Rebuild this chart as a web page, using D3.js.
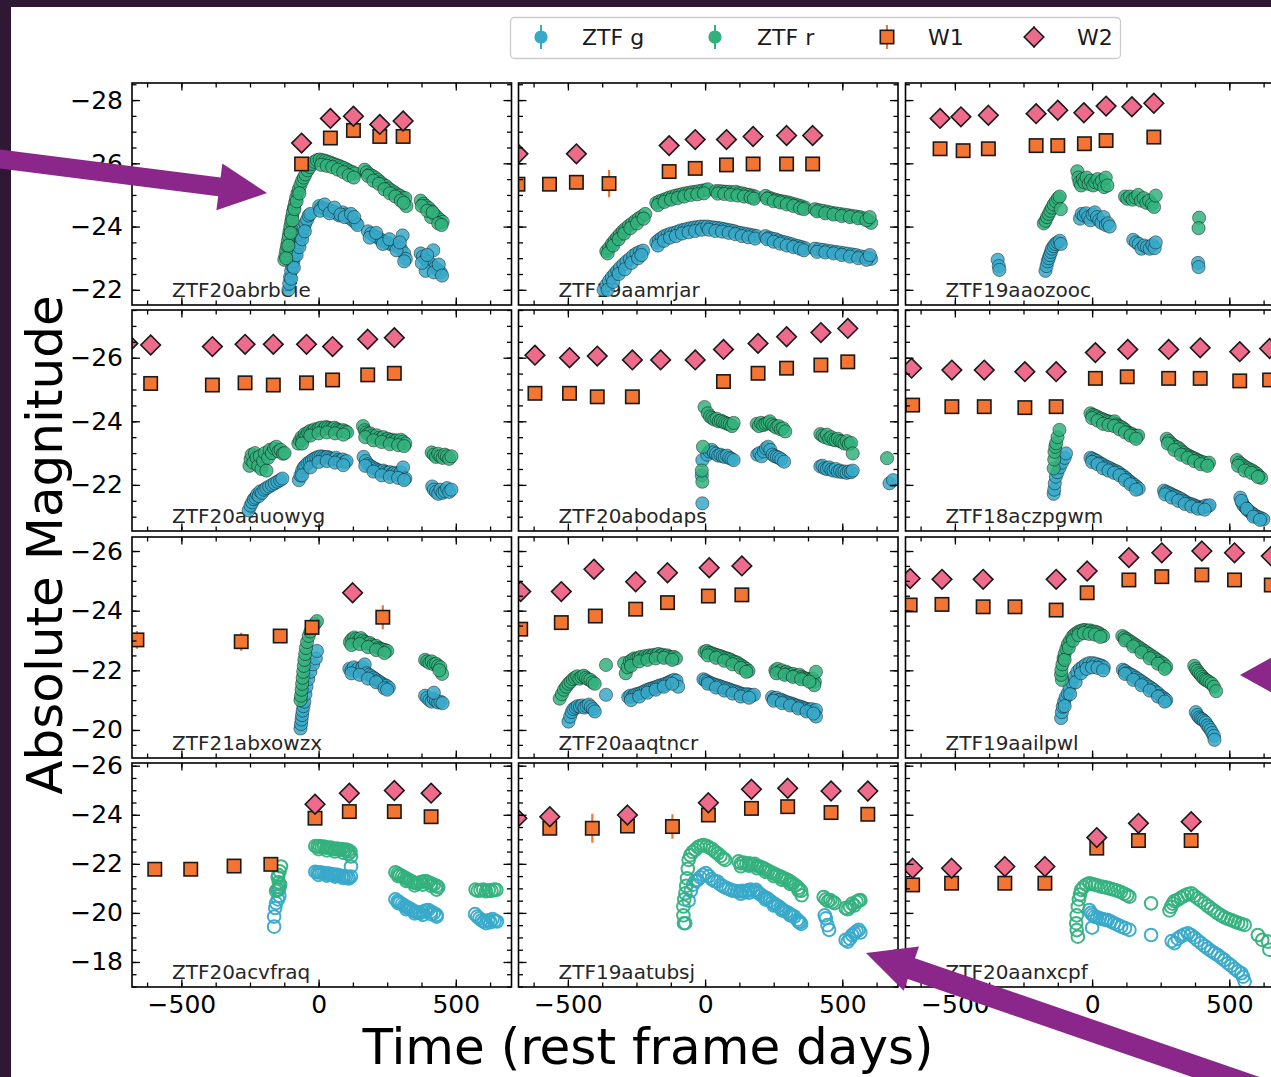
<!DOCTYPE html>
<html><head><meta charset="utf-8">
<script src="https://cdn.jsdelivr.net/npm/d3@7"></script>
<style>html,body{margin:0;padding:0;background:#2e1833;overflow:hidden;} svg{display:block;font-family:"DejaVu Sans",sans-serif;}</style>
</head><body><svg id="c" width="1271" height="1077"></svg>
<script>
// ---------------- DATA ----------------
const objectNames = ["ZTF20abrbeie","ZTF19aamrjar","ZTF19aaozooc","ZTF20aauowyg","ZTF20abodaps","ZTF18aczpgwm","ZTF21abxowzx","ZTF20aaqtncr","ZTF19aailpwl","ZTF20acvfraq","ZTF19aatubsj","ZTF20aanxcpf"];
const openMarkerObjects = ["ZTF20acvfraq","ZTF19aatubsj","ZTF20aanxcpf"];
const bandNames = ["ZTF g","ZTF r","W1","W2"];
const bandColors = ["#38a9c9","#33b17d","#f47431","#ef6b8b"];
const xDomain = [-680, 703];
const xMajorTicks = [-500, 0, 500];
const xMinorTicks = [-625,-500,-375,-250,-125,0,125,250,375,500,625];
const rowYDomains = [[-28.54,-21.52],[-27.5,-20.55],[-26.47,-19.06],[-26.11,-16.98]];
const rowYTicks = [[-28,-26,-24,-22],[-26,-24,-22],[-26,-24,-22,-20],[-26,-24,-22,-20,-18]];
const xLabel = "Time (rest frame days)";
const yLabel = "Absolute Magnitude";

// ZTF20abrbeie
const abrbeie_g = [[-110,-22.0],[-107,-22.2],[-104,-22.4],[-100,-22.6],[-96,-22.75],[-92,-22.9],[-88,-23.05],[-84,-23.2],[-78,-23.35],[-72,-23.5],[-66,-23.65],[-60,-23.8],[-54,-23.95],[-48,-24.1],[-42,-24.22],[-36,-24.35],[-30,-24.4],
[-100,-22.35],[-90,-22.7],[-80,-23.1],[-70,-23.35],[-60,-23.6],[-50,-23.85],
[2,-24.65],[10,-24.6],[18,-24.58],[27,-24.55],[36,-24.52],[45,-24.5],[55,-24.48],[65,-24.42],[75,-24.35],[88,-24.45],[100,-24.38],[112,-24.28],[124,-24.2],[136,-24.12],[142,-24.05],
[6,-24.5],[22,-24.7],[40,-24.42],[58,-24.6],[80,-24.38],[95,-24.3],[118,-24.4],[130,-24.3],
[180,-23.85],[192,-23.78],[204,-23.7],[216,-23.65],[228,-23.58],[240,-23.52],[252,-23.48],[264,-23.44],[278,-23.4],[292,-23.38],[300,-23.3],[306,-23.72],[312,-23.15],[318,-22.98],[312,-22.9],
[186,-23.65],[210,-23.8],[234,-23.45],[258,-23.6],[284,-23.25],[296,-23.5],
[372,-23.15],[380,-23.05],[390,-22.95],[400,-22.88],[410,-22.82],[418,-23.25],[425,-22.7],[435,-22.62],[445,-22.55],[390,-22.6],
[376,-22.85],[396,-23.1],[420,-22.55],[438,-22.8],[450,-22.45]];
const abrbeie_r = [[-125,-22.95],[-121,-23.1],[-118,-23.25],[-115,-23.4],[-112,-23.55],[-109,-23.7],[-106,-23.85],[-103,-24.0],[-100,-24.15],[-97,-24.3],[-94,-24.45],[-90,-24.6],[-86,-24.75],[-82,-24.9],[-77,-25.05],[-72,-25.18],[-66,-25.32],[-60,-25.45],[-54,-25.55],[-48,-25.65],[-40,-25.78],[-32,-25.88],[-24,-25.98],[-16,-26.05],
[-118,-23.0],[-110,-23.4],[-102,-23.8],[-95,-24.2],[-88,-24.55],[-80,-24.8],[-70,-25.05],
[-6,-26.1],[4,-26.12],[14,-26.1],[24,-26.08],[34,-26.05],[44,-26.02],[54,-25.98],[64,-25.95],[74,-25.92],[84,-25.88],[94,-25.85],[104,-25.8],[114,-25.75],[124,-25.72],[132,-25.68],
[10,-25.95],[30,-25.92],[50,-25.88],[70,-25.8],[90,-25.72],[110,-25.62],[128,-25.55],
[168,-25.8],[176,-25.72],[186,-25.65],[196,-25.6],[206,-25.55],[216,-25.48],[226,-25.4],[236,-25.33],[246,-25.28],[256,-25.2],[266,-25.14],[276,-25.08],[286,-25.02],[296,-24.98],[306,-24.92],[316,-24.9],[320,-24.65],
[180,-25.6],[200,-25.45],[220,-25.35],[240,-25.18],[260,-25.05],[280,-24.95],[300,-24.82],[310,-24.75],
[372,-24.82],[382,-24.72],[392,-24.65],[402,-24.58],[412,-24.48],[422,-24.38],[432,-24.3],[442,-24.22],[452,-24.15],[410,-24.3],
[376,-24.65],[396,-24.5],[416,-24.45],[436,-24.1],[448,-24.05]];
const abrbeie_w1 = [[-62,-25.98,0.08],[43,-26.8,0.08],[127,-27.04,0.08],[223,-26.85,0.08],[308,-26.85,0.08]];
const abrbeie_w2 = [[-62,-26.64,0.08],[43,-27.42,0.08],[127,-27.49,0.08],[223,-27.23,0.08],[308,-27.34,0.08]];

// ZTF19aamrjar
const aamrjar_g = [[-370,-22.0],[-360,-22.15],[-350,-22.28],[-340,-22.4],[-330,-22.5],[-320,-22.6],[-310,-22.7],[-298,-22.8],[-286,-22.9],[-274,-22.98],[-262,-23.08],[-250,-23.15],[-238,-23.2],[-226,-23.24],
[-355,-22.0],[-335,-22.25],[-315,-22.5],[-292,-22.65],[-268,-22.85],[-244,-23.0],[-232,-23.1],
[-178,-23.5],[-168,-23.58],[-158,-23.64],[-148,-23.7],[-136,-23.74],[-124,-23.78],[-112,-23.8],[-100,-23.84],[-88,-23.88],[-76,-23.9],[-64,-23.93],[-52,-23.95],[-40,-23.97],[-28,-23.98],[-16,-24.0],[-4,-24.0],
[-172,-23.4],[-150,-23.55],[-128,-23.65],[-106,-23.7],[-84,-23.78],[-60,-23.82],[-36,-23.86],[-12,-23.9],
[8,-24.0],[20,-23.98],[32,-23.97],[44,-23.96],[56,-23.94],[68,-23.92],[80,-23.9],[92,-23.88],[104,-23.86],[116,-23.82],[128,-23.8],[140,-23.78],[152,-23.76],[164,-23.74],[176,-23.72],[188,-23.7],
[14,-23.9],[38,-23.86],[62,-23.84],[86,-23.8],[110,-23.76],[134,-23.7],[158,-23.66],[182,-23.62],
[220,-23.7],[232,-23.65],[244,-23.62],[256,-23.6],[268,-23.56],[280,-23.52],[292,-23.5],[304,-23.47],[316,-23.44],[328,-23.4],[340,-23.38],[352,-23.35],[364,-23.32],
[226,-23.6],[250,-23.52],[274,-23.46],[298,-23.4],[322,-23.35],[346,-23.3],[360,-23.25],
[400,-23.3],[415,-23.28],[430,-23.26],[445,-23.24],[460,-23.22],[475,-23.2],[490,-23.18],[505,-23.16],[520,-23.14],[535,-23.12],[550,-23.1],[565,-23.06],[580,-23.04],[595,-23.02],[605,-22.98],
[408,-23.2],[438,-23.18],[468,-23.15],[498,-23.1],[528,-23.05],[558,-23.0],[588,-22.95],[600,-23.1]];
const aamrjar_r = [[-360,-23.22],[-350,-23.32],[-340,-23.45],[-330,-23.56],[-320,-23.66],[-310,-23.76],[-300,-23.85],[-290,-23.93],[-278,-24.02],[-266,-24.1],[-254,-24.18],[-242,-24.26],[-230,-24.32],[-218,-24.4],
[-355,-23.15],[-335,-23.4],[-315,-23.6],[-295,-23.78],[-272,-23.95],[-248,-24.1],[-224,-24.25],
[-178,-24.75],[-166,-24.8],[-154,-24.84],[-142,-24.88],[-130,-24.92],[-118,-24.95],[-106,-24.98],[-94,-25.0],[-82,-25.03],[-70,-25.05],[-58,-25.07],[-46,-25.09],[-34,-25.1],[-22,-25.12],[-10,-25.14],[2,-25.15],[10,-25.18],
[-172,-24.68],[-148,-24.78],[-124,-24.85],[-100,-24.9],[-76,-24.95],[-52,-25.0],[-28,-25.02],[-4,-25.05],
[40,-25.12],[52,-25.12],[64,-25.11],[76,-25.1],[88,-25.1],[100,-25.08],[112,-25.1],[124,-25.06],[136,-25.05],[148,-25.02],[160,-25.0],[172,-24.98],[182,-24.95],
[46,-25.04],[70,-25.03],[94,-25.0],[118,-24.98],[142,-24.95],[166,-24.92],[178,-24.88],
[220,-24.97],[232,-24.92],[244,-24.88],[256,-24.85],[268,-24.82],[280,-24.8],[292,-24.78],[304,-24.76],[316,-24.73],[328,-24.7],[340,-24.67],[352,-24.64],[364,-24.6],
[226,-24.88],[250,-24.8],[274,-24.76],[298,-24.7],[322,-24.65],[346,-24.58],[360,-24.55],
[400,-24.55],[415,-24.52],[430,-24.5],[445,-24.47],[460,-24.44],[475,-24.42],[490,-24.4],[505,-24.38],[520,-24.36],[535,-24.34],[550,-24.32],[565,-24.3],[580,-24.26],[595,-24.2],[605,-24.12],
[408,-24.48],[438,-24.42],[468,-24.38],[498,-24.33],[528,-24.3],[558,-24.26],[588,-24.2],[600,-24.3]];
const aamrjar_w1 = [[-682,-25.34,0.08],[-567,-25.34,0.08],[-469,-25.4,0.08],[-350,-25.36,0.43],[-131,-25.74,0.08],[-36,-25.84,0.08],[78,-25.95,0.08],[175,-25.98,0.08],[297,-25.98,0.08],[392,-25.98,0.08]];
const aamrjar_w2 = [[-682,-26.3,0.08],[-469,-26.3,0.08],[-131,-26.56,0.08],[-36,-26.75,0.08],[78,-26.75,0.08],[175,-26.85,0.08],[297,-26.88,0.08],[392,-26.88,0.08]];

// ZTF19aaozooc
const aaozooc_g = [[-344,-22.95],[-340,-22.75],[-338,-22.63],
[-170,-22.6],[-166,-22.75],[-162,-22.9],[-158,-23.0],[-154,-23.1],[-150,-23.2],[-146,-23.3],[-140,-23.38],[-134,-23.45],[-126,-23.5],[-118,-23.55],[-114,-23.45],
[-44,-24.25],[-38,-24.4],[-30,-24.35],[-22,-24.42],[-14,-24.3],[-6,-24.2],[2,-24.38],[10,-24.45],[18,-24.3],[26,-24.2],[34,-24.12],[42,-24.3],[50,-24.05],[58,-24.1],[64,-24.0],
[150,-23.58],[160,-23.5],[170,-23.45],[180,-23.3],[190,-23.4],[200,-23.35],[210,-23.3],[220,-23.42],[228,-23.32],[232,-23.5],
[386,-22.85],[388,-22.72]];
const aaozooc_r = [[-176,-24.1],[-170,-24.18],[-164,-24.3],[-158,-24.4],[-152,-24.5],[-146,-24.6],[-140,-24.7],[-132,-24.8],[-124,-24.9],[-118,-24.95],[-114,-24.55],
[-54,-25.75],[-50,-25.55],[-46,-25.4],[-40,-25.3],[-34,-25.5],[-28,-25.4],[-20,-25.55],[-12,-25.35],[-4,-25.45],[4,-25.3],[12,-25.4],[20,-25.5],[28,-25.35],[36,-25.45],[44,-25.25],[50,-25.55],[56,-25.3],
[120,-24.95],[128,-24.88],[138,-24.95],[148,-24.85],[158,-24.92],[168,-25.0],[178,-24.82],[188,-24.9],[198,-24.75],[208,-24.82],[218,-24.7],[226,-24.62],[232,-24.98],
[390,-24.28],[388,-23.95]];
const aaozooc_w1 = [[-554,-26.46,0.08],[-470,-26.4,0.12],[-378,-26.46,0.08],[-204,-26.56,0.08],[-125,-26.56,0.08],[-28,-26.62,0.15],[51,-26.72,0.08],[225,-26.83,0.08]];
const aaozooc_w2 = [[-554,-27.42,0.08],[-478,-27.47,0.08],[-378,-27.52,0.08],[-204,-27.57,0.08],[-125,-27.68,0.08],[-30,-27.6,0.08],[51,-27.81,0.08],[145,-27.79,0.08],[225,-27.9,0.08]];

// ZTF20aauowyg
const aauowyg_g = [[-255,-21.2],[-248,-21.35],[-242,-21.45],[-236,-21.55],[-230,-21.6],[-224,-21.7],[-218,-21.65],[-212,-21.8],[-206,-21.75],[-198,-21.85],[-190,-21.9],[-180,-21.95],[-170,-22.0],[-160,-22.05],[-150,-22.1],[-140,-22.15],[-132,-22.2],
[-72,-22.15],[-66,-22.3],[-60,-22.45],[-54,-22.55],[-48,-22.6],[-40,-22.68],[-32,-22.72],[-24,-22.78],[-16,-22.82],[-8,-22.85],[0,-22.88],[8,-22.9],[16,-22.88],[24,-22.86],[32,-22.88],[40,-22.85],[48,-22.82],[56,-22.8],[64,-22.85],[72,-22.78],[80,-22.75],[88,-22.8],[96,-22.72],[102,-22.75],
[-60,-22.3],[-30,-22.55],[0,-22.72],[30,-22.75],[60,-22.7],[90,-22.62],
[164,-22.88],[172,-22.75],[180,-22.65],[188,-22.6],[196,-22.55],[204,-22.52],[212,-22.48],[220,-22.45],[228,-22.42],[236,-22.45],[244,-22.4],[252,-22.38],[260,-22.4],[268,-22.35],[276,-22.38],[284,-22.35],[292,-22.32],[300,-22.4],[308,-22.55],[316,-22.2],
[170,-22.6],[200,-22.42],[230,-22.3],[260,-22.25],[290,-22.22],[312,-22.15],
[414,-21.95],[420,-21.85],[428,-21.78],[436,-21.72],[444,-21.85],[452,-21.75],[460,-21.8],[468,-21.9],[476,-21.78],[484,-21.85]];
const aauowyg_r = [[-252,-22.6],[-248,-22.8],[-244,-22.95],[-238,-22.7],[-232,-23.0],[-226,-22.85],[-220,-22.6],[-214,-22.9],[-208,-22.5],[-202,-22.75],[-196,-23.0],[-190,-22.45],[-184,-22.85],[-178,-23.1],[-170,-23.0],[-162,-23.15],[-154,-23.2],[-146,-23.05],[-138,-23.1],[-130,-22.98],[-124,-23.0],
[-74,-23.3],[-68,-23.4],[-62,-23.5],[-56,-23.45],[-50,-23.6],[-44,-23.55],[-38,-23.65],[-30,-23.7],[-22,-23.68],[-14,-23.75],[-6,-23.72],[2,-23.78],[10,-23.8],[18,-23.75],[26,-23.82],[34,-23.8],[42,-23.78],[50,-23.76],[58,-23.8],[66,-23.75],[74,-23.72],[82,-23.7],[90,-23.72],[98,-23.68],[104,-23.65],
[-60,-23.3],[-30,-23.55],[0,-23.62],[30,-23.65],[60,-23.62],[90,-23.58],
[162,-23.85],[168,-23.72],[174,-23.65],[180,-23.6],[188,-23.62],[196,-23.55],[204,-23.5],[212,-23.56],[220,-23.48],[228,-23.45],[236,-23.5],[244,-23.42],[252,-23.45],[260,-23.4],[268,-23.42],[276,-23.38],[284,-23.4],[292,-23.35],[300,-23.42],[308,-23.36],[316,-23.3],
[170,-23.5],[200,-23.4],[230,-23.35],[260,-23.28],[290,-23.25],[312,-23.22],
[412,-23.02],[420,-22.95],[428,-22.88],[436,-22.98],[444,-22.9],[452,-22.85],[460,-22.95],[468,-22.9],[476,-22.82],[484,-22.9]];
const aauowyg_w1 = [[-612,-25.19,0.08],[-387,-25.14,0.08],[-268,-25.21,0.08],[-165,-25.14,0.08],[-44,-25.21,0.08],[51,-25.3,0.08],[179,-25.46,0.08],[276,-25.51,0.08]];
const aauowyg_w2 = [[-695,-26.45,0.08],[-612,-26.4,0.08],[-387,-26.35,0.08],[-268,-26.42,0.08],[-165,-26.42,0.08],[-44,-26.42,0.08],[51,-26.35,0.08],[179,-26.58,0.08],[276,-26.63,0.08]];

// ZTF20abodaps
const abodaps_g = [[-10,-21.42],[-12,-22.3],[-10,-22.78],[8,-22.95],[16,-23.05],[24,-23.1],[32,-23.02],[40,-22.98],[48,-22.92],[56,-22.95],[64,-22.9],[72,-22.88],[80,-22.92],[88,-22.85],[96,-22.82],[104,-22.78],
[190,-22.95],[198,-23.0],[206,-22.9],[214,-23.05],[222,-23.15],[230,-23.2],[238,-23.1],[246,-22.95],[254,-22.9],[262,-22.88],[270,-22.85],[278,-22.8],[288,-22.73],
[420,-22.58],[428,-22.6],[436,-22.52],[444,-22.5],[452,-22.55],[460,-22.48],[468,-22.45],[476,-22.5],[484,-22.42],[492,-22.45],[500,-22.4],[508,-22.42],[516,-22.38],[524,-22.42],[532,-22.4],[538,-22.45],
[672,-22.05],[685,-22.15]];
const abodaps_r = [[-10,-22.1],[-12,-22.45],[-8,-23.2],[-2,-24.45],[10,-24.25],[18,-24.15],[26,-24.1],[34,-24.05],[42,-24.08],[50,-24.0],[58,-24.02],[66,-23.98],[74,-23.95],[82,-23.92],[90,-23.9],[98,-23.85],[104,-23.95],
[188,-23.92],[196,-23.85],[204,-23.95],[212,-23.88],[220,-23.92],[228,-23.95],[236,-24.0],[244,-23.9],[252,-23.85],[260,-23.8],[268,-23.85],[276,-23.75],[284,-23.78],[292,-23.68],
[420,-23.6],[428,-23.55],[436,-23.5],[444,-23.58],[452,-23.45],[460,-23.5],[468,-23.42],[476,-23.4],[484,-23.45],[492,-23.38],[500,-23.35],[508,-23.3],[516,-23.38],[524,-23.28],[532,-23.32],[538,-22.99],
[663,-22.84]];
const abodaps_w1 = [[-620,-24.88,0.08],[-494,-24.88,0.08],[-393,-24.77,0.08],[-265,-24.77,0.08],[67,-25.25,0.08],[193,-25.51,0.08],[297,-25.67,0.08],[422,-25.77,0.08],[520,-25.87,0.08]];
const abodaps_w2 = [[-620,-26.08,0.08],[-494,-26.0,0.08],[-393,-26.05,0.08],[-265,-25.93,0.08],[-162,-25.93,0.08],[-36,-25.93,0.08],[67,-26.26,0.08],[193,-26.45,0.08],[297,-26.66,0.08],[422,-26.79,0.08],[520,-26.92,0.08]];

// ZTF18aczpgwm
const aczpgwm_g = [[-140,-21.72],[-138,-21.85],[-136,-22.05],[-132,-22.26],[-126,-22.4],[-118,-22.55],[-110,-22.7],[-100,-22.85],[-95,-22.99],
[-6,-22.85],[2,-22.82],[10,-22.78],[18,-22.75],[26,-22.7],[34,-22.66],[42,-22.62],[50,-22.58],[58,-22.55],[66,-22.52],[74,-22.48],[82,-22.45],[90,-22.42],[98,-22.38],[106,-22.32],[114,-22.28],[122,-22.22],[130,-22.16],[138,-22.1],[146,-22.05],[154,-22.0],[162,-21.94],[170,-21.88],
[0,-22.72],[20,-22.65],[40,-22.52],[60,-22.45],[80,-22.38],[100,-22.3],[120,-22.15],[140,-22.02],[160,-21.85],
[262,-21.82],[270,-21.78],[278,-21.75],[286,-21.72],[294,-21.68],[302,-21.65],[310,-21.62],[318,-21.58],[326,-21.55],[334,-21.5],[342,-21.46],[350,-21.42],[358,-21.4],[366,-21.38],[374,-21.35],[382,-21.32],[390,-21.3],[398,-21.28],[406,-21.3],[414,-21.35],[422,-21.33],[428,-21.36],
[266,-21.7],[290,-21.6],[314,-21.5],[338,-21.4],[362,-21.32],[386,-21.25],[410,-21.22],
[540,-21.6],[546,-21.45],[552,-21.35],[560,-21.28],[568,-21.2],[576,-21.15],[584,-21.1],[592,-21.05],[600,-21.0],[608,-20.98],[616,-20.95],[624,-20.92],
[544,-21.5],[564,-21.25],[588,-21.0],[612,-20.9]];
const aczpgwm_r = [[-140,-22.52],[-138,-22.8],[-137,-23.04],[-134,-23.2],[-131,-23.31],[-126,-23.5],[-119,-23.73],
[-6,-24.25],[2,-24.2],[10,-24.18],[18,-24.15],[26,-24.1],[34,-24.08],[42,-24.05],[50,-24.02],[58,-24.0],[66,-23.98],[74,-23.95],[82,-24.0],[90,-23.9],[98,-23.85],[106,-23.82],[114,-23.78],[122,-23.72],[130,-23.65],[138,-23.62],[146,-23.6],[154,-23.55],[162,-23.52],[168,-23.55],
[0,-24.1],[20,-24.02],[40,-23.92],[60,-23.88],[80,-23.85],[100,-23.75],[120,-23.65],[140,-23.55],[160,-23.45],
[272,-23.45],[280,-23.38],[288,-23.3],[296,-23.25],[304,-23.2],[312,-23.18],[320,-23.12],[328,-23.05],[336,-23.0],[344,-22.95],[352,-22.92],[360,-22.88],[368,-22.85],[376,-22.82],[384,-22.78],[392,-22.75],[400,-22.72],[410,-22.7],[418,-22.66],[426,-22.7],
[276,-23.3],[300,-23.1],[324,-22.95],[348,-22.85],[372,-22.75],[396,-22.65],[420,-22.6],
[528,-22.78],[536,-22.7],[544,-22.65],[552,-22.6],[560,-22.55],[568,-22.52],[576,-22.48],[584,-22.45],[592,-22.4],[600,-22.35],[608,-22.28],[616,-22.22],
[532,-22.6],[556,-22.45],[580,-22.38],[604,-22.25]];
const aczpgwm_w1 = [[-654,-24.51,0.08],[-511,-24.46,0.08],[-393,-24.46,0.08],[-245,-24.43,0.08],[-131,-24.46,0.08],[12,-25.35,0.08],[128,-25.4,0.08],[279,-25.35,0.08],[394,-25.35,0.08],[538,-25.27,0.08],[647,-25.3,0.08]];
const aczpgwm_w2 = [[-658,-25.67,0.08],[-511,-25.61,0.08],[-393,-25.61,0.08],[-245,-25.56,0.08],[-131,-25.56,0.08],[12,-26.16,0.08],[130,-26.26,0.08],[279,-26.26,0.08],[394,-26.31,0.08],[538,-26.19,0.08],[647,-26.29,0.08]];

// ZTF21abxowzx
const abxowzx_g = [[-66,-20.05],[-64,-20.2],[-62,-20.35],[-60,-20.5],[-58,-20.65],[-55,-20.8],[-52,-20.95],[-48,-21.2],[-44,-21.45],[-38,-21.7],[-30,-21.95],[-20,-22.2],[-10,-22.4],[-6,-22.65],
[112,-22.05],[120,-22.0],[128,-22.1],[136,-21.98],[144,-22.05],[152,-21.95],[160,-22.1],[168,-22.2],[176,-21.9],[184,-21.85],[192,-21.8],[200,-21.75],[208,-21.7],[216,-21.65],[224,-21.6],[232,-21.55],[240,-21.5],[248,-21.48],[256,-21.42],
[120,-21.9],[150,-21.85],[180,-21.72],[210,-21.6],[240,-21.4],[250,-21.35],
[388,-21.15],[396,-21.08],[404,-21.0],[412,-20.95],[420,-21.05],[428,-20.98],[436,-20.92],[444,-20.95],[452,-20.9],[420,-21.25]];
const abxowzx_r = [[-66,-21.0],[-64,-21.15],[-62,-21.35],[-60,-21.55],[-58,-21.75],[-56,-21.95],[-54,-22.15],[-52,-22.35],[-49,-22.55],[-46,-22.75],[-42,-22.95],[-36,-23.15],[-30,-23.3],[-22,-23.45],[-14,-23.55],[-6,-23.65],
[114,-22.95],[122,-23.05],[130,-23.1],[138,-23.05],[146,-23.0],[154,-23.08],[162,-23.0],[170,-22.95],[178,-22.9],[186,-22.92],[194,-22.85],[202,-22.8],[210,-22.82],[218,-22.75],[226,-22.72],[234,-22.7],[242,-22.68],[250,-22.65],
[120,-22.85],[150,-22.88],[180,-22.78],[210,-22.68],[240,-22.58],
[388,-22.35],[396,-22.3],[404,-22.25],[412,-22.3],[420,-22.2],[428,-22.22],[436,-22.15],[444,-22.1],[450,-21.88],[440,-22.0]];
const abxowzx_w1 = [[-662,-23.02,0.3],[-282,-22.96,0.3],[-140,-23.15,0.2],[-24,-23.44,0.2],[234,-23.78,0.4]];
const abxowzx_w2 = [[124,-24.6,0.08]];

// ZTF20aaqtncr
const aaqtncr_g = [[-498,-20.28],[-492,-20.45],[-486,-20.6],[-480,-20.7],[-472,-20.75],[-464,-20.8],[-456,-20.78],[-448,-20.82],[-440,-20.75],[-432,-20.8],[-424,-20.85],[-416,-20.78],[-408,-20.7],[-402,-20.62],[-361,-21.18],
[-280,-21.1],[-272,-21.15],[-264,-21.12],[-256,-21.18],[-248,-21.2],[-240,-21.22],[-232,-21.25],[-224,-21.28],[-216,-21.32],[-208,-21.35],[-200,-21.38],[-192,-21.4],[-184,-21.42],[-176,-21.45],[-168,-21.48],[-160,-21.5],[-152,-21.52],[-144,-21.55],[-136,-21.58],[-128,-21.62],[-120,-21.65],[-112,-21.68],[-104,-21.65],[-98,-21.45],
[-270,-21.0],[-240,-21.12],[-210,-21.25],[-180,-21.35],[-150,-21.45],[-120,-21.55],
[-6,-21.7],[2,-21.66],[10,-21.62],[18,-21.58],[26,-21.55],[34,-21.52],[42,-21.5],[50,-21.48],[58,-21.45],[66,-21.42],[74,-21.4],[82,-21.38],[90,-21.35],[98,-21.32],[106,-21.3],[114,-21.28],[122,-21.25],[130,-21.22],[138,-21.2],[146,-21.18],[154,-21.2],[162,-21.18],[170,-21.15],[178,-21.18],
[10,-21.55],[40,-21.42],[70,-21.32],[100,-21.22],[130,-21.12],[160,-21.08],
[244,-21.1],[252,-21.05],[260,-21.08],[268,-21.0],[276,-21.02],[284,-20.98],[292,-20.95],[300,-20.92],[308,-20.9],[316,-20.88],[324,-20.85],[332,-20.82],[340,-20.8],[348,-20.78],[356,-20.75],[364,-20.72],[372,-20.7],[380,-20.68],[388,-20.7],[396,-20.62],[404,-20.67],[404,-20.45],
[250,-20.98],[280,-20.9],[310,-20.82],[340,-20.72],[370,-20.62],[395,-20.55]];
const aaqtncr_r = [[-530,-21.05],[-522,-21.2],[-514,-21.35],[-506,-21.45],[-498,-21.55],[-490,-21.62],[-482,-21.7],[-474,-21.75],[-466,-21.8],[-458,-21.72],[-450,-21.78],[-442,-21.82],[-434,-21.75],[-426,-21.7],[-418,-21.68],[-410,-21.6],[-402,-21.55],[-361,-22.18],
[-295,-22.24],[-289,-21.9],[-282,-22.1],[-274,-22.3],[-266,-22.35],[-258,-22.4],[-250,-22.38],[-242,-22.42],[-234,-22.45],[-226,-22.4],[-218,-22.48],[-210,-22.45],[-202,-22.5],[-194,-22.48],[-186,-22.52],[-178,-22.5],[-170,-22.55],[-162,-22.5],[-154,-22.52],[-146,-22.48],[-138,-22.5],[-130,-22.45],[-122,-22.42],[-114,-22.45],[-106,-22.4],
[-270,-22.15],[-240,-22.3],[-210,-22.35],[-180,-22.4],[-150,-22.42],[-120,-22.35],
[-2,-22.62],[6,-22.65],[14,-22.6],[22,-22.58],[30,-22.55],[38,-22.52],[46,-22.5],[54,-22.48],[62,-22.45],[70,-22.42],[78,-22.4],[86,-22.38],[94,-22.35],[102,-22.3],[110,-22.28],[118,-22.25],[126,-22.2],[134,-22.15],[142,-22.1],[150,-22.05],[158,-21.98],
[10,-22.5],[40,-22.42],[70,-22.32],[100,-22.2],[130,-22.08],[150,-21.95],
[256,-22.0],[264,-22.05],[272,-21.95],[280,-22.0],[288,-21.92],[296,-21.95],[304,-21.9],[312,-21.85],[320,-21.88],[328,-21.82],[336,-21.8],[344,-21.85],[352,-21.78],[360,-21.75],[368,-21.72],[376,-21.7],[384,-21.68],[392,-21.72],[400,-21.62],[404,-21.95],[398,-21.5],
[260,-21.9],[290,-21.85],[320,-21.78],[350,-21.7],[380,-21.62]];
const aaqtncr_w1 = [[-672,-23.38,0.12],[-524,-23.6,0.08],[-400,-23.82,0.08],[-253,-24.05,0.08],[-137,-24.27,0.08],[12,-24.49,0.08],[134,-24.53,0.08]];
const aaqtncr_w2 = [[-672,-24.64,0.08],[-524,-24.64,0.08],[-405,-25.39,0.22],[-253,-24.97,0.08],[-137,-25.27,0.08],[15,-25.44,0.08],[134,-25.5,0.08]];

// ZTF19aailpwl
const aailpwl_g = [[-113,-20.4],[-110,-20.6],[-107,-20.78],[-102,-20.95],[-96,-21.1],[-89,-21.23],[-82,-21.42],[-74,-21.6],[-64,-21.79],[-54,-21.95],[-44,-22.05],[-33,-22.12],[-22,-22.2],[-10,-22.24],[3,-22.24],[14,-22.22],[26,-22.18],[36,-22.15],[43,-22.1],
[-100,-20.8],[-80,-21.2],[-60,-21.6],[-40,-21.9],[-20,-22.05],[0,-22.1],[20,-22.08],[40,-22.0],
[112,-22.02],[120,-21.98],[128,-21.92],[136,-21.88],[144,-21.84],[152,-21.8],[160,-21.75],[168,-21.7],[176,-21.65],[184,-21.6],[192,-21.55],[200,-21.5],[208,-21.45],[216,-21.4],[224,-21.35],[232,-21.28],[240,-21.23],[248,-21.15],[256,-21.1],[264,-21.05],[270,-21.0],
[120,-21.88],[150,-21.68],[180,-21.5],[210,-21.32],[240,-21.12],[265,-20.95],
[378,-20.6],[384,-20.5],[390,-20.42],[396,-20.38],[402,-20.35],[408,-20.3],[414,-20.25],[420,-20.15],[426,-20.08],[432,-20.0],[438,-19.9],[444,-19.8],[446,-19.67]];
const aailpwl_r = [[-110,-21.68],[-113,-21.85],[-112,-22.01],[-108,-22.2],[-104,-22.4],[-100,-22.55],[-94,-22.72],[-88,-22.88],[-80,-23.0],[-72,-23.12],[-64,-23.2],[-56,-23.25],[-48,-23.3],[-40,-23.32],[-32,-23.35],[-24,-23.35],[-16,-23.32],[-8,-23.34],[0,-23.3],[8,-23.3],[16,-23.28],[24,-23.25],[32,-23.2],[40,-23.15],
[-100,-22.35],[-85,-22.75],[-70,-23.0],[-50,-23.18],[-30,-23.25],[-10,-23.22],[10,-23.2],[30,-23.12],
[110,-23.15],[118,-23.1],[126,-23.05],[134,-23.0],[142,-22.95],[150,-22.9],[158,-22.85],[166,-22.8],[174,-22.75],[182,-22.7],[190,-22.65],[198,-22.6],[206,-22.55],[214,-22.5],[222,-22.45],[230,-22.4],[238,-22.35],[246,-22.3],[254,-22.25],[262,-22.2],[270,-22.12],
[120,-23.0],[150,-22.8],[180,-22.6],[210,-22.4],[240,-22.22],[265,-22.05],
[372,-22.15],[378,-22.05],[384,-21.98],[390,-21.9],[396,-21.85],[402,-21.78],[408,-21.72],[414,-21.68],[420,-21.65],[428,-21.6],[436,-21.55],[444,-21.45],[452,-21.3]];
const aailpwl_w1 = [[-663,-24.19,0.08],[-547,-24.21,0.08],[-397,-24.13,0.08],[-281,-24.13,0.08],[-131,-24.02,0.08],[-18,-24.6,0.08],[134,-25.03,0.08],[254,-25.14,0.08],[400,-25.2,0.08],[519,-25.03,0.08],[653,-24.86,0.08]];
const aailpwl_w2 = [[-663,-25.08,0.08],[-547,-25.05,0.08],[-397,-25.05,0.08],[-131,-25.05,0.08],[-18,-25.33,0.08],[134,-25.78,0.08],[254,-25.94,0.08],[400,-26.0,0.08],[519,-25.94,0.08],[653,-25.83,0.08]];

// ZTF20acvfraq
const acvfraq_g = [[-162,-19.44],[-162,-19.85],[-158,-20.2],[-155,-20.4],[-148,-20.55],[-143,-20.7],[-145,-20.95],
[-12,-21.68],[-4,-21.65],[4,-21.66],[12,-21.63],[20,-21.62],[28,-21.6],[36,-21.6],[44,-21.58],[52,-21.56],[60,-21.55],[68,-21.55],[76,-21.52],[84,-21.5],[92,-21.5],[100,-21.48],[108,-21.46],[118,-21.48],[118,-21.89],
[0,-21.55],[30,-21.52],[60,-21.48],[90,-21.42],[110,-21.4],
[280,-20.55],[288,-20.48],[296,-20.42],[304,-20.36],[312,-20.3],[320,-20.25],[328,-20.2],[336,-20.15],[344,-20.1],[352,-20.05],[360,-20.02],[370,-19.99],[380,-20.05],[390,-20.1],[400,-20.12],[410,-20.05],[420,-19.98],[430,-19.92],
[290,-20.4],[320,-20.15],[350,-19.98],[380,-19.92],[410,-19.95],[430,-19.85],
[570,-19.95],[578,-19.85],[586,-19.78],[594,-19.7],[602,-19.65],[610,-19.58],[618,-19.7],[626,-19.62],[634,-19.75],[642,-19.68],[650,-19.65]];
const acvfraq_r = [[-137,-21.89],[-142,-21.7],[-147,-21.55],[-149,-21.45],[-145,-21.25],[-143,-21.05],[-150,-20.95],[-155,-20.9],[-140,-21.15],
[-12,-22.72],[-4,-22.7],[4,-22.72],[12,-22.68],[20,-22.7],[28,-22.66],[36,-22.65],[44,-22.66],[52,-22.62],[60,-22.6],[68,-22.62],[76,-22.58],[84,-22.6],[92,-22.55],[100,-22.58],[108,-22.55],[116,-22.5],[118,-22.3],
[0,-22.6],[30,-22.55],[60,-22.5],[90,-22.45],[110,-22.42],
[280,-21.65],[288,-21.6],[296,-21.55],[304,-21.5],[312,-21.45],[320,-21.4],[328,-21.35],[336,-21.3],[344,-21.25],[352,-21.22],[360,-21.2],[370,-21.25],[380,-21.28],[390,-21.3],[400,-21.25],[410,-21.2],[420,-21.15],[430,-21.1],[436,-21.05],
[290,-21.5],[320,-21.3],[350,-21.12],[380,-21.15],[410,-21.1],[430,-20.95],
[572,-20.95],[580,-20.9],[590,-20.92],[600,-20.95],[610,-20.88],[620,-20.92],[630,-20.9],[640,-20.95],[648,-20.94]];
const acvfraq_w1 = [[-597,-21.78,0.08],[-466,-21.78,0.08],[-308,-21.91,0.08],[-174,-21.98,0.08],[-13,-23.86,0.08],[112,-24.13,0.08],[276,-24.13,0.08],[410,-23.92,0.08]];
const acvfraq_w2 = [[-13,-24.43,0.08],[112,-24.88,0.08],[276,-24.99,0.08],[410,-24.88,0.08]];

// ZTF19aatubsj
const aatubsj_g = [[-72,-19.58],[-60,-20.5],[-52,-20.9],[-44,-21.15],[-36,-21.3],[-28,-21.34],[-18,-21.45],[-8,-21.55],[3,-21.62],[14,-21.5],[24,-21.38],[34,-21.3],[45,-21.28],[56,-21.15],[66,-21.08],[76,-21.02],[86,-20.98],[96,-20.92],[106,-20.9],[116,-20.88],[126,-20.87],[136,-20.9],[146,-20.85],[156,-20.92],[166,-20.95],[176,-20.9],[186,-20.94],[196,-20.8],[206,-20.72],[216,-20.65],[226,-20.6],[236,-20.5],[246,-20.42],[256,-20.35],[266,-20.28],[276,-20.19],[286,-20.1],[296,-20.05],[306,-19.98],[316,-19.9],[326,-19.85],[336,-19.72],[346,-19.62],[350,-19.55],
[130,-20.78],[160,-20.82],[190,-20.85],[220,-20.55],[250,-20.3],[280,-20.1],[310,-19.9],[340,-19.65],
[436,-19.9],[440,-19.78],[446,-19.5],[452,-19.31],
[512,-18.9],[520,-18.83],[528,-18.95],[536,-19.1],[544,-19.17],[552,-19.25],[560,-19.31],[566,-19.2]];
const aatubsj_r = [[-77,-19.58],[-79,-19.9],[-79,-20.26],[-76,-20.55],[-72,-20.8],[-69,-21.1],[-66,-21.41],[-63,-21.8],[-60,-22.16],[-54,-22.35],[-46,-22.48],[-36,-22.57],[-26,-22.68],[-16,-22.74],[-5,-22.77],[6,-22.72],[16,-22.66],[26,-22.6],[36,-22.5],[46,-22.42],[56,-22.32],[66,-22.22],[73,-22.16],
[122,-22.1],[130,-22.02],[140,-22.05],[150,-22.0],[160,-22.02],[170,-21.98],[180,-22.0],[190,-21.92],[200,-21.88],[210,-21.84],[220,-21.78],[230,-21.72],[240,-21.66],[250,-21.6],[260,-21.55],[270,-21.5],[280,-21.45],[290,-21.4],[300,-21.35],[310,-21.28],[320,-21.2],[330,-21.12],[340,-21.02],[350,-20.9],[352,-20.72],
[130,-21.9],[160,-21.92],[190,-21.82],[220,-21.68],[250,-21.5],[280,-21.35],[310,-21.18],[340,-20.92],
[432,-20.65],[440,-20.55],[448,-20.48],[456,-20.52],[464,-20.45],[472,-20.4],
[512,-20.2],[520,-20.15],[528,-20.25],[536,-20.38],[544,-20.3],[552,-20.45],[560,-20.5],[566,-20.52]];
const aatubsj_w1 = [[-566,-23.45,0.08],[-411,-23.45,0.59],[-283,-23.54,0.08],[-119,-23.52,0.5],[12,-23.99,0.08],[169,-24.26,0.08],[301,-24.33,0.08],[459,-24.09,0.08],[593,-24.02,0.08]];
const aatubsj_w2 = [[-686,-23.86,0.08],[-566,-23.92,0.08],[-283,-23.99,0.08],[12,-24.49,0.08],[169,-25.04,0.08],[301,-25.08,0.08],[459,-24.97,0.08],[593,-24.97,0.08]];

// ZTF20aanxcpf
const aanxcpf_g = [[-10,-20.12],[-4,-20.0],[0,-19.4],[2,-19.92],[9,-19.85],[18,-19.82],[28,-19.78],[38,-19.75],[48,-19.72],[57,-19.71],[68,-19.65],[80,-19.58],[92,-19.52],[106,-19.44],[120,-19.38],[136,-19.31],
[215,-19.1],
[290,-18.85],[300,-18.77],[312,-18.95],[324,-19.05],[336,-19.12],[349,-19.17],[360,-19.1],[372,-19.0],[384,-18.88],[397,-18.77],[410,-18.65],[422,-18.55],[434,-18.45],[446,-18.36],[458,-18.28],[470,-18.18],[482,-18.08],[495,-17.95],[507,-17.85],[520,-17.72],[532,-17.62],[544,-17.54],[550,-17.4],[556,-17.2]];
const aanxcpf_r = [[-52,-19.03],[-56,-19.3],[-58,-19.58],[-56,-19.9],[-52,-20.26],[-48,-20.55],[-44,-20.75],[-40,-20.94],[-32,-21.05],[-22,-21.15],[-10,-21.21],[0,-21.18],[10,-21.15],[20,-21.12],[33,-21.07],[45,-21.05],[57,-21.02],[69,-20.98],[81,-20.94],[93,-20.9],[105,-20.85],[117,-20.78],[128,-20.72],[136,-20.66],
[215,-20.39],
[282,-20.1],[288,-20.25],[294,-20.38],[300,-20.48],[312,-20.53],[324,-20.62],[336,-20.7],[348,-20.76],[361,-20.8],[372,-20.7],[384,-20.6],[396,-20.5],[410,-20.39],[422,-20.28],[434,-20.18],[446,-20.08],[458,-19.98],[470,-19.9],[482,-19.82],[494,-19.76],[507,-19.71],[520,-19.65],[532,-19.6],[544,-19.55],[556,-19.51],
[604,-19.1],[620,-18.9],[641,-18.83],[646,-18.5]];
const aanxcpf_w1 = [[-654,-21.14,0.08],[-512,-21.21,0.08],[-318,-21.21,0.08],[-172,-21.21,0.08],[17,-22.64,0.08],[169,-22.95,0.08],[361,-22.95,0.08]];
const aanxcpf_w2 = [[-654,-21.82,0.08],[-512,-21.82,0.08],[-318,-21.89,0.08],[-172,-21.89,0.08],[17,-23.07,0.08],[169,-23.65,0.08],[361,-23.72,0.08]];

// ---------------- TABLE BUILT FROM THE ARRAYS ----------------
const gSeries  = [abrbeie_g, aamrjar_g, aaozooc_g, aauowyg_g, abodaps_g, aczpgwm_g, abxowzx_g, aaqtncr_g, aailpwl_g, acvfraq_g, aatubsj_g, aanxcpf_g];
const rSeries  = [abrbeie_r, aamrjar_r, aaozooc_r, aauowyg_r, abodaps_r, aczpgwm_r, abxowzx_r, aaqtncr_r, aailpwl_r, acvfraq_r, aatubsj_r, aanxcpf_r];
const w1Series = [abrbeie_w1, aamrjar_w1, aaozooc_w1, aauowyg_w1, abodaps_w1, aczpgwm_w1, abxowzx_w1, aaqtncr_w1, aailpwl_w1, acvfraq_w1, aatubsj_w1, aanxcpf_w1];
const w2Series = [abrbeie_w2, aamrjar_w2, aaozooc_w2, aauowyg_w2, abodaps_w2, aczpgwm_w2, abxowzx_w2, aaqtncr_w2, aailpwl_w2, acvfraq_w2, aatubsj_w2, aanxcpf_w2];
const panels = objectNames.map((name, i) => ({name, g: gSeries[i], r: rSeries[i], w1: w1Series[i], w2: w2Series[i], open: openMarkerObjects.includes(name)}));

// ---------------- LAYOUT ----------------
const W = 1271, H = 1077;
const colLeft = [132, 518.5, 905.5], panelW = 379.5;
const rowTop = [83, 310, 537, 763], rowH = [222, 221, 221, 224];
const fontFam = '"DejaVu Sans", sans-serif';

const svg = d3.select("#c");
svg.append("rect").attr("x",0).attr("y",0).attr("width",W).attr("height",H).attr("fill","#2e1833");
svg.append("rect").attr("x",11).attr("y",7).attr("width",W-11).attr("height",H-7).attr("fill","#ffffff");

const defs = svg.append("defs");
const diamond = s => `M0,${-s}L${s},0L0,${s}L${-s},0Z`;

panels.forEach((p, i) => {
  const row = Math.floor(i / 3), col = i % 3;
  const x0 = colLeft[col], x1 = x0 + panelW, y0 = rowTop[row], y1 = y0 + rowH[row];
  const x = d3.scaleLinear().domain(xDomain).range([x0, x1]);
  const y = d3.scaleLinear().domain(rowYDomains[row]).range([y0, y1]);
  const clipId = "clip" + i;
  defs.append("clipPath").attr("id", clipId).append("rect").attr("x", x0).attr("y", y0).attr("width", panelW).attr("height", rowH[row]);

  const g = svg.append("g");
  g.append("text").attr("x", x0 + 40).attr("y", y1 - 8).attr("font-size", 20).attr("fill", "#262626")
    .attr("font-family", fontFam).text(p.name);

  const m = g.append("g").attr("clip-path", `url(#${clipId})`);
  [[p.g, 0], [p.r, 1]].forEach(([data, b]) => {
    const sel = m.append("g").selectAll("circle").data(data).join("circle")
      .attr("cx", d => x(d[0])).attr("cy", d => y(d[1])).attr("r", p.open ? 6.3 : 6.6);
    if (p.open) {
      sel.attr("fill", "none").attr("stroke", bandColors[b]).attr("stroke-width", 2).attr("stroke-opacity", 0.95);
    } else {
      sel.attr("fill", bandColors[b]).attr("fill-opacity", 0.85)
        .attr("stroke", "#000").attr("stroke-opacity", 0.42).attr("stroke-width", 1);
    }
  });
  const w1g = m.append("g");
  w1g.selectAll("line").data(p.w1).join("line")
    .attr("x1", d => x(d[0])).attr("x2", d => x(d[0]))
    .attr("y1", d => y(d[1] - d[2])).attr("y2", d => y(d[1] + d[2]))
    .attr("stroke", bandColors[2]).attr("stroke-width", 2.2);
  w1g.selectAll("rect").data(p.w1).join("rect")
    .attr("x", d => x(d[0]) - 6.7).attr("y", d => y(d[1]) - 6.7).attr("width", 13.4).attr("height", 13.4)
    .attr("fill", bandColors[2]).attr("stroke", "#1a1a1a").attr("stroke-width", 1.6);
  const w2g = m.append("g");
  w2g.selectAll("line").data(p.w2).join("line")
    .attr("x1", d => x(d[0])).attr("x2", d => x(d[0]))
    .attr("y1", d => y(d[1] - d[2])).attr("y2", d => y(d[1] + d[2]))
    .attr("stroke", bandColors[3]).attr("stroke-width", 2.2);
  w2g.selectAll("path").data(p.w2).join("path")
    .attr("transform", d => `translate(${x(d[0])},${y(d[1])})`).attr("d", diamond(9.8))
    .attr("fill", bandColors[3]).attr("stroke", "#1a1a1a").attr("stroke-width", 1.6);

  const yMinor = d3.range(Math.ceil(rowYDomains[row][0] * 2) / 2, rowYDomains[row][1], 0.5);
  const styleAxis = sel => {
    sel.select(".domain").remove();
    sel.selectAll(".tick line").attr("stroke", "#000").attr("stroke-width", 1.3);
    sel.selectAll("text").attr("font-size", 25).attr("font-family", fontFam).attr("fill", "#000");
    sel.attr("font-family", null).attr("font-size", null);
  };
  const ax = (gen, tx, ty) => g.append("g").attr("transform", `translate(${tx},${ty})`).call(gen).call(styleAxis);
  ax(d3.axisLeft(y).tickValues(rowYTicks[row]).tickSize(-8).tickPadding(9).tickFormat(col === 0 ? d3.format("d") : () => ""), x0, 0);
  ax(d3.axisLeft(y).tickValues(yMinor).tickSize(-4.5).tickFormat(() => ""), x0, 0);
  ax(d3.axisRight(y).tickValues(rowYTicks[row]).tickSize(-8).tickFormat(() => ""), x1, 0);
  ax(d3.axisRight(y).tickValues(yMinor).tickSize(-4.5).tickFormat(() => ""), x1, 0);
  ax(d3.axisTop(x).tickValues(xMajorTicks).tickSize(-7.5).tickFormat(() => ""), 0, y0);
  ax(d3.axisTop(x).tickValues(xMinorTicks).tickSize(-4.5).tickFormat(() => ""), 0, y0);
  ax(d3.axisBottom(x).tickValues(xMajorTicks).tickSize(-7.5).tickPadding(8).tickFormat(row === 3 ? d3.format("d") : () => ""), 0, y1);
  ax(d3.axisBottom(x).tickValues(xMinorTicks).tickSize(-4.5).tickFormat(() => ""), 0, y1);

  g.append("rect").attr("x", x0).attr("y", y0).attr("width", panelW).attr("height", rowH[row])
    .attr("fill", "none").attr("stroke", "#000").attr("stroke-width", 1.6);
});

// axis titles
svg.append("text").attr("x", 648).attr("y", 1064).attr("text-anchor", "middle")
  .attr("font-size", 50).attr("font-family", fontFam).attr("fill", "#000").text(xLabel);
svg.append("text").attr("transform", "translate(62,545) rotate(-90)").attr("text-anchor", "middle")
  .attr("font-size", 50).attr("font-family", fontFam).attr("fill", "#000").text(yLabel);

// legend
const leg = svg.append("g");
leg.append("rect").attr("x", 510.5).attr("y", 17.5).attr("width", 610).attr("height", 41).attr("rx", 4)
  .attr("fill", "#fff").attr("stroke", "#cccccc").attr("stroke-width", 1.3);
const legMarkX = [541, 715, 887, 1034], legTextX = [582, 757, 928, 1077];
bandNames.forEach((name, b) => {
  const cx = legMarkX[b], cy = 37;
  leg.append("line").attr("x1", cx).attr("x2", cx).attr("y1", b === 3 ? 26 : 25).attr("y2", b === 3 ? 48 : 49)
    .attr("stroke", bandColors[b]).attr("stroke-width", 2);
  if (b < 2) {
    leg.append("circle").attr("cx", cx).attr("cy", cy).attr("r", 6.6).attr("fill", bandColors[b]);
  } else if (b === 2) {
    leg.append("rect").attr("x", cx - 6.7).attr("y", cy - 6.7).attr("width", 13.4).attr("height", 13.4)
      .attr("fill", bandColors[2]).attr("stroke", "#1a1a1a").attr("stroke-width", 1.6);
  } else {
    leg.append("path").attr("transform", `translate(${cx},${cy})`).attr("d", diamond(9.8))
      .attr("fill", bandColors[3]).attr("stroke", "#1a1a1a").attr("stroke-width", 1.6);
  }
  leg.append("text").attr("x", legTextX[b]).attr("y", 45).attr("font-size", 22).attr("font-family", fontFam)
    .attr("fill", "#1a1a1a").text(name);
});

// purple annotation arrows (figure pixel coordinates)
const arrowAnnotations = [
  {tail: [-31, 155], tip: [267, 193], shaft: 19, headW: 47, headL: 48},
  {tail: [1460, 675], tip: [1240, 675], shaft: 19, headW: 50, headL: 45},
  {tail: [1339, 1116], tip: [866, 953], shaft: 22, headW: 47, headL: 48}
];
arrowAnnotations.forEach(a => {
  const dx = a.tip[0] - a.tail[0], dy = a.tip[1] - a.tail[1];
  const L = Math.hypot(dx, dy), ux = dx / L, uy = dy / L, nx = -uy, ny = ux;
  const bx = a.tip[0] - ux * a.headL, by = a.tip[1] - uy * a.headL;
  const s = a.shaft / 2, h = a.headW / 2;
  const pts = [
    [a.tail[0] + nx * s, a.tail[1] + ny * s], [bx + nx * s, by + ny * s], [bx + nx * h, by + ny * h],
    a.tip, [bx - nx * h, by - ny * h], [bx - nx * s, by - ny * s], [a.tail[0] - nx * s, a.tail[1] - ny * s]
  ];
  svg.append("path").attr("d", d3.line()(pts) + "Z").attr("fill", "#8b268b");
});
</script></body></html>
